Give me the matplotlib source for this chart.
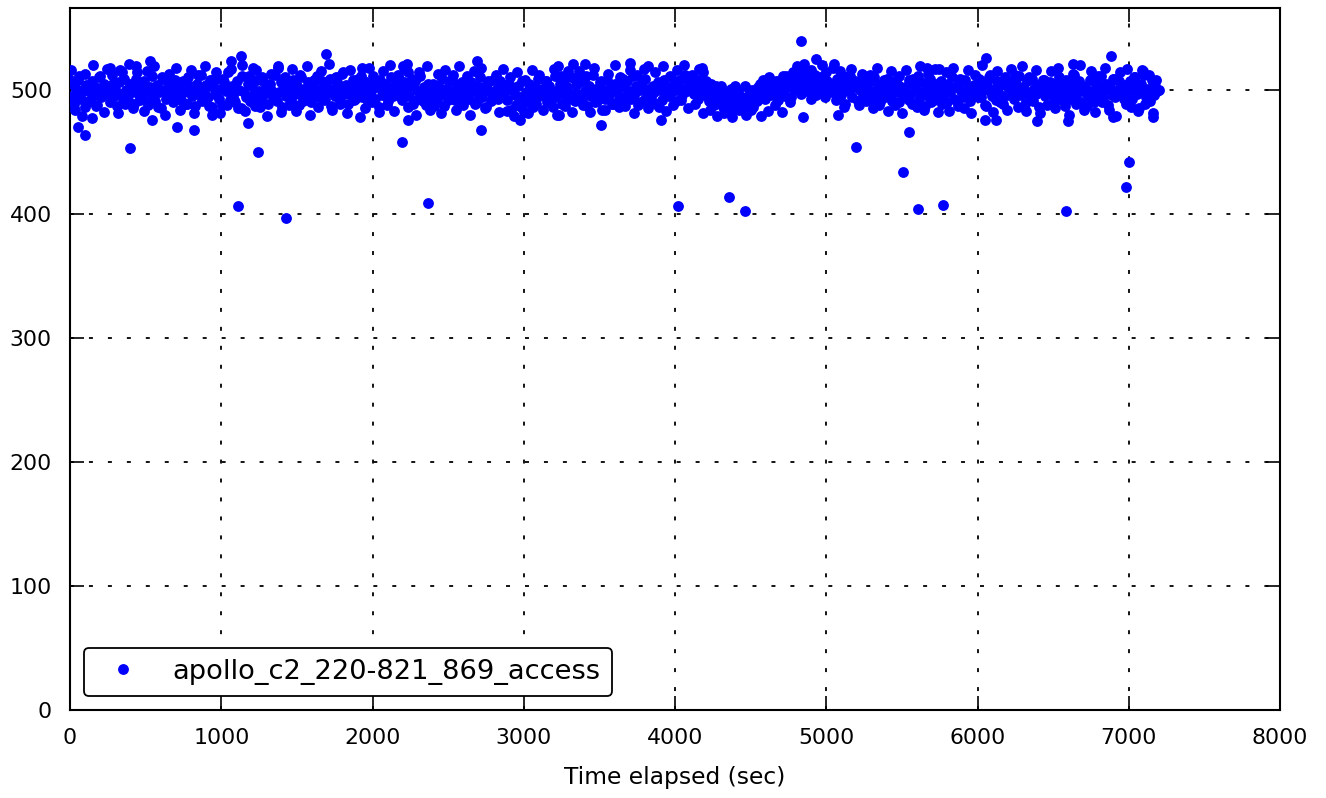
import matplotlib
matplotlib.use("Agg")
import matplotlib.pyplot as plt
import numpy as np

# ---- data: time elapsed (sec) and measured value ----
time_rows = [
    [0,12,24,36,48,60,72,84,96,108,120,132,144,156,168,180,192,204,216,228],
    [240,252,264,276,288,300,312,324,336,348,360,372,384,396,408,420,432,444,456,468],
    [480,492,504,516,528,540,552,564,576,588,600,612,624,636,648,660,672,684,696,708],
    [720,732,744,756,768,780,792,804,816,828,840,852,864,876,888,900,912,924,936,948],
    [960,972,984,996,1008,1020,1032,1044,1056,1068,1080,1092,1104,1116,1128,1140,1152,1164,1176,1188],
    [1200,1212,1224,1236,1248,1260,1272,1284,1296,1308,1320,1332,1344,1356,1368,1380,1392,1404,1416,1428],
    [1440,1452,1464,1476,1488,1500,1512,1524,1536,1548,1560,1572,1584,1596,1608,1620,1632,1644,1656,1668],
    [1680,1692,1704,1716,1728,1740,1752,1764,1776,1788,1800,1812,1824,1836,1848,1860,1872,1884,1896,1908],
    [1920,1932,1944,1956,1968,1980,1992,2004,2016,2028,2040,2052,2064,2076,2088,2100,2112,2124,2136,2148],
    [2160,2172,2184,2196,2208,2220,2232,2244,2256,2268,2280,2292,2304,2316,2328,2340,2352,2364,2376,2388],
    [2400,2412,2424,2436,2448,2460,2472,2484,2496,2508,2520,2532,2544,2556,2568,2580,2592,2604,2616,2628],
    [2640,2652,2664,2676,2688,2700,2712,2724,2736,2748,2760,2772,2784,2796,2808,2820,2832,2844,2856,2868],
    [2880,2892,2904,2916,2928,2940,2952,2964,2976,2988,3000,3012,3024,3036,3048,3060,3072,3084,3096,3108],
    [3120,3132,3144,3156,3168,3180,3192,3204,3216,3228,3240,3252,3264,3276,3288,3300,3312,3324,3336,3348],
    [3360,3372,3384,3396,3408,3420,3432,3444,3456,3468,3480,3492,3504,3516,3528,3540,3552,3564,3576,3588],
    [3600,3612,3624,3636,3648,3660,3672,3684,3696,3708,3720,3732,3744,3756,3768,3780,3792,3804,3816,3828],
    [3840,3852,3864,3876,3888,3900,3912,3924,3936,3948,3960,3972,3984,3996,4008,4020,4032,4044,4056,4068],
    [4080,4092,4104,4116,4128,4140,4152,4164,4176,4188,4200,4212,4224,4236,4248,4260,4272,4284,4296,4308],
    [4320,4332,4344,4356,4368,4380,4392,4404,4416,4428,4440,4452,4464,4476,4488,4500,4512,4524,4536,4548],
    [4560,4572,4584,4596,4608,4620,4632,4644,4656,4668,4680,4692,4704,4716,4728,4740,4752,4764,4776,4788],
    [4800,4812,4824,4836,4848,4860,4872,4884,4896,4908,4920,4932,4944,4956,4968,4980,4992,5004,5016,5028],
    [5040,5052,5064,5076,5088,5100,5112,5124,5136,5148,5160,5172,5184,5196,5208,5220,5232,5244,5256,5268],
    [5280,5292,5304,5316,5328,5340,5352,5364,5376,5388,5400,5412,5424,5436,5448,5460,5472,5484,5496,5508],
    [5520,5532,5544,5556,5568,5580,5592,5604,5616,5628,5640,5652,5664,5676,5688,5700,5712,5724,5736,5748],
    [5760,5772,5784,5796,5808,5820,5832,5844,5856,5868,5880,5892,5904,5916,5928,5940,5952,5964,5976,5988],
    [6000,6012,6024,6036,6048,6060,6072,6084,6096,6108,6120,6132,6144,6156,6168,6180,6192,6204,6216,6228],
    [6240,6252,6264,6276,6288,6300,6312,6324,6336,6348,6360,6372,6384,6396,6408,6420,6432,6444,6456,6468],
    [6480,6492,6504,6516,6528,6540,6552,6564,6576,6588,6600,6612,6624,6636,6648,6660,6672,6684,6696,6708],
    [6720,6732,6744,6756,6768,6780,6792,6804,6816,6828,6840,6852,6864,6876,6888,6900,6912,6924,6936,6948],
    [6960,6972,6984,6996,7008,7020,7032,7044,7056,7068,7080,7092,7104,7116,7128,7140,7152,7164,7176,7188],
    [7200],
    [6,30,54,78,102,126,150,174,198,222,246,270,294,318,342,366,390,414,438,462],
    [486,510,534,558,582,606,630,654,678,702,726,750,774,798,822,846,870,894,918,942],
    [966,990,1014,1038,1062,1086,1110,1134,1158,1182,1206,1230,1254,1278,1302,1326,1350,1374,1398,1422],
    [1446,1470,1494,1518,1542,1566,1590,1614,1638,1662,1686,1710,1734,1758,1782,1806,1830,1854,1878,1902],
    [1926,1950,1974,1998,2022,2046,2070,2094,2118,2142,2166,2190,2214,2238,2262,2286,2310,2334,2358,2382],
    [2406,2430,2454,2478,2502,2526,2550,2574,2598,2622,2646,2670,2694,2718,2742,2766,2790,2814,2838,2862],
    [2886,2910,2934,2958,2982,3006,3030,3054,3078,3102,3126,3150,3174,3198,3222,3246,3270,3294,3318,3342],
    [3366,3390,3414,3438,3462,3486,3510,3534,3558,3582,3606,3630,3654,3678,3702,3726,3750,3774,3798,3822],
    [3846,3870,3894,3918,3942,3966,3990,4014,4038,4062,4086,4110,4134,4158,4182,4206,4230,4254,4278,4302],
    [4326,4350,4374,4398,4422,4446,4470,4494,4518,4542,4566,4590,4614,4638,4662,4686,4710,4734,4758,4782],
    [4806,4830,4854,4878,4902,4926,4950,4974,4998,5022,5046,5070,5094,5118,5142,5166,5190,5214,5238,5262],
    [5286,5310,5334,5358,5382,5406,5430,5454,5478,5502,5526,5550,5574,5598,5622,5646,5670,5694,5718,5742],
    [5766,5790,5814,5838,5862,5886,5910,5934,5958,5982,6006,6030,6054,6078,6102,6126,6150,6174,6198,6222],
    [6246,6270,6294,6318,6342,6366,6390,6414,6438,6462,6486,6510,6534,6558,6582,6606,6630,6654,6678,6702],
    [6726,6750,6774,6798,6822,6846,6870,6894,6918,6942,6966,6990,7014,7038,7062,7086,7110,7134,7158,7182],
]
value_rows = [
    [508,495,489,502,497,511,493,500,486,504,499,491,507,496,502,488,510,494,499,505],
    [498,503,490,512,495,501,487,506,497,493,509,500,492,505,498,489,503,514,496,501],
    [494,507,499,488,502,511,496,491,504,498,485,509,500,493,506,497,502,490,508,495],
    [501,492,506,498,489,510,503,495,500,487,505,497,512,491,499,504,494,508,486,502],
    [497,509,493,501,488,506,499,514,492,503,496,490,507,500,485,511,498,494,505,491],
    [503,496,487,508,499,493,510,497,502,489,505,500,494,512,491,498,506,486,501,495],
    [499,505,492,508,497,503,488,510,495,501,493,506,499,490,504,497,511,494,500,507],
    [492,503,498,509,487,501,495,506,500,491,513,497,504,489,502,496,508,493,499,505],
    [501,494,507,497,490,504,499,511,493,502,486,508,496,500,505,491,498,510,495,503],
    [497,509,501,492,506,498,514,495,503,489,507,500,493,511,496,502,488,505,499,494],
    [505,498,491,503,496,509,487,501,494,507,499,512,492,504,497,490,506,500,495,502],
    [493,506,500,489,503,497,510,494,502,486,505,499,491,508,496,501,493,507,498,504],
    [499,492,505,484,501,496,488,503,494,507,482,498,490,505,497,486,502,493,509,496],
    [501,495,507,490,503,498,486,511,494,500,505,489,508,496,502,493,510,497,491,504],
    [497,506,492,509,499,487,503,495,512,490,501,497,506,484,500,493,508,496,502,489],
    [505,498,491,510,494,502,487,507,499,493,511,496,503,488,500,506,492,509,497,501],
    [494,503,498,489,506,500,492,508,497,502,495,510,499,505,491,503,508,496,501,512],
    [499,506,502,511,497,504,493,508,500,514,496,502,491,505,498,488,503,495,490,500],
    [486,497,492,483,501,489,495,485,499,491,494,487,503,490,496,484,500,493,498,502],
    [505,497,508,493,501,510,496,503,499,507,492,504,498,511,495,502,506,494,509,500],
    [512,503,508,497,515,505,499,510,493,506,501,496,509,503,498,511,494,507,500,504],
    [498,505,492,509,501,496,507,489,503,499,511,494,502,506,491,500,508,495,503,497],
    [506,499,493,510,497,503,488,505,500,494,509,496,502,491,507,498,504,490,501,495],
    [502,494,508,497,489,504,500,511,493,506,498,487,503,495,509,499,492,505,496,501],
    [507,496,501,490,505,498,510,493,502,487,506,499,494,508,497,503,491,500,504,495],
    [498,509,494,503,488,506,500,512,495,501,492,507,497,504,489,510,496,502,499,506],
    [493,505,500,511,496,502,489,507,498,494,509,501,497,504,486,500,508,495,503,499],
    [506,497,491,504,500,510,494,502,487,508,499,493,505,512,496,501,507,490,503,498],
    [501,495,508,499,490,506,497,503,511,493,500,505,488,502,496,509,494,500,507,498],
    [495,504,489,500,507,493,502,510,497,485,505,499,512,494,501,491,508,496,503,499],
    [500],
    [516,484,508,479,513,491,520,487,511,482,517,494,506,481,514,489,521,485,509,492],
    [483,515,490,519,486,510,480,513,495,518,484,507,489,516,481,512,493,519,487,508],
    [514,481,509,488,517,492,485,520,483,511,490,516,486,507,479,513,495,518,482,510],
    [488,517,483,512,491,519,480,508,486,515,493,521,484,510,489,514,481,516,492,509],
    [511,485,518,490,507,482,515,488,520,483,512,494,517,486,509,480,514,491,519,484],
    [487,513,481,516,492,509,484,519,488,511,480,515,490,518,485,507,493,512,482,517],
    [483,510,479,514,486,508,481,516,489,512,484,507,491,517,480,511,487,515,482,509],
    [515,488,511,482,518,491,507,484,513,489,520,486,509,493,516,481,512,490,517,485],
    [490,514,486,519,483,511,488,516,492,520,485,512,489,517,481,507,484,496,479,503],
    [481,496,478,503,484,493,480,498,486,491,479,505,483,500,488,507,482,511,490,514],
    [519,510,521,505,516,512,508,520,514,503,518,509,515,486,511,517,507,488,513,491],
    [512,485,518,490,508,483,515,488,511,481,516,492,509,486,519,484,513,490,517,482],
    [489,514,483,518,491,509,485,516,481,512,494,520,487,510,482,515,490,508,484,517],
    [512,486,519,483,510,491,516,481,508,488,515,485,518,492,507,480,513,489,520,484],
    [487,515,482,511,490,518,484,509,479,514,493,517,486,510,483,516,489,512,481,508],
]
# isolated points outside the main band
extra_time = [53, 99, 145, 397, 542, 707, 820, 939, 1110, 1177, 1243, 1428, 1917, 2195,
              2235, 2367, 2717, 2975, 3233, 3511, 3907, 4020, 4357, 4463, 4846, 5078,
              5197, 5507, 5547, 5607, 5772, 6050, 6122, 6393, 6585, 6598, 6896, 6982,
              7002, 7160,
              264, 331, 436, 529, 1064, 1131, 1210, 1375, 1693, 1931, 2202, 2228, 2691,
              3226, 3327, 3405, 3702, 3822, 4179, 4833, 4932, 5051, 5666, 5745, 6056,
              6631, 6883, 7094]
extra_value = [470, 464, 477, 453, 476, 470, 468, 480, 406, 473, 450, 397, 478, 458,
               476, 409, 468, 476, 480, 472, 476, 406, 414, 402, 478, 480,
               454, 434, 466, 404, 407, 476, 476, 475, 402, 475, 478, 422,
               442, 478,
               518, 516, 519, 523, 523, 527, 518, 519, 529, 518, 519, 521, 523,
               519, 521, 521, 522, 519, 518, 539, 525, 521, 518, 517, 526,
               521, 527, 515]
series_label = "apollo_c2_220-821_869_access"
x_label = "Time elapsed (sec)"

x = np.concatenate([np.concatenate([np.array(r, float) for r in time_rows]), np.array(extra_time, float)])
y = np.concatenate([np.concatenate([np.array(r, float) for r in value_rows]), np.array(extra_value, float)])

plt.rcParams['font.family'] = ['DejaVu Sans']
fig = plt.figure(figsize=(13.26, 7.98), dpi=100)
ax = fig.add_axes([70/1326, 1-710/798, 1210/1326, 702/798])

ax.plot(x, y, linestyle='none', marker='o', color='blue', markersize=7.8,
        markeredgewidth=0, label=series_label, zorder=3)

ax.set_xlim(0, 8000)
ax.set_ylim(0, 566)
ax.set_xticks(np.arange(0, 8001, 1000))
ax.set_yticks(np.arange(0, 501, 100))

ax.grid(True, color='black', linestyle=(0, (2.2, 8.3)), linewidth=1.3, zorder=1)
ax.tick_params(which='major', direction='in', length=10, width=1.2, top=True, right=True,
               labelsize=15.8, pad=13, color='black')
for sp in ax.spines.values():
    sp.set_linewidth(1.5)
    sp.set_color('black')

ax.set_xlabel(x_label, fontsize=16.8, labelpad=13)

leg = ax.legend(loc='lower left', fontsize=19.6, numpoints=1, framealpha=1,
                edgecolor='black', fancybox=True, borderpad=0.42, handlelength=2.05,
                handletextpad=0.8, borderaxespad=0.5)
leg.get_frame().set_linewidth(1.3)

fig.savefig('out.png', dpi=100)
